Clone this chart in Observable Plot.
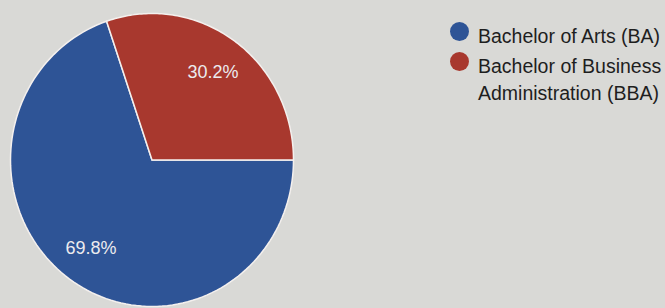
<!DOCTYPE html>
<html><head><meta charset="utf-8">
<script src="https://cdn.jsdelivr.net/npm/d3@7"></script>
<script src="https://cdn.jsdelivr.net/npm/@observablehq/plot@0.6"></script>
<style>
html,body{margin:0;padding:0;background:#d9d9d6;}
#wrap{position:relative;width:665px;height:308px;overflow:hidden;font-family:Arial,"Liberation Sans",sans-serif;}
#chart svg{display:block;background:transparent;}
#legend{position:absolute;left:450px;top:23px;color:#1e1e1e;font-size:19.5px;line-height:27px;}
.item{display:flex;align-items:flex-start;margin-bottom:3px;}
.mk{width:19px;height:19px;border-radius:50%;margin-top:-1px;margin-right:9px;flex:none;}
.tx{width:200px;}
</style>
</head><body>
<div id="wrap"><div id="chart"></div><div id="legend"></div></div>
<script>
const categories = ["Bachelor of Arts (BA)", "Bachelor of Business Administration (BBA)"];
const shares = [69.8, 30.2];
const colors = ["#2e5496", "#a8382e"];

const arcs = d3.pie().sort(null).startAngle(Math.PI / 2).endAngle(Math.PI / 2 + 2 * Math.PI)(shares);

// polygon points for each slice, derived from the pie angles
const slicePts = [];
arcs.forEach((a, i) => {
  const cat = categories[i];
  slicePts.push({cat, x: 0, y: 0});
  const n = 120;
  for (let k = 0; k <= n; k++) {
    const t = a.startAngle + (a.endAngle - a.startAngle) * k / n;
    slicePts.push({cat, x: Math.sin(t), y: Math.cos(t)});
  }
  slicePts.push({cat, x: 0, y: 0});
});

const labelPts = arcs.map((a, i) => {
  const m = (a.startAngle + a.endAngle) / 2;
  return {cat: categories[i], x: 0.74 * Math.sin(m), y: 0.74 * Math.cos(m), label: shares[i].toFixed(1) + "%"};
});

const chart = Plot.plot({
  width: 665, height: 308, margin: 0,
  x: {domain: [-1, 1], range: [10, 293], axis: null},
  y: {domain: [-1, 1], range: [306, 13], axis: null},
  color: {domain: categories, range: colors},
  style: {background: "transparent", fontFamily: "Arial, 'Liberation Sans', sans-serif"},
  marks: [
    Plot.line(slicePts, {x: "x", y: "y", z: "cat", fill: "cat", stroke: "#f4f0ee", strokeWidth: 1.5, strokeLinejoin: "round"}),
    Plot.text(labelPts, {x: "x", y: "y", text: "label", fill: "#ecebee", fontSize: 18})
  ]
});
document.getElementById("chart").appendChild(chart);

const legend = document.getElementById("legend");
categories.forEach((c, i) => {
  const item = document.createElement("div");
  item.className = "item";
  const mk = document.createElement("div");
  mk.className = "mk";
  mk.style.background = colors[i];
  const tx = document.createElement("div");
  tx.className = "tx";
  tx.textContent = c;
  item.appendChild(mk); item.appendChild(tx);
  legend.appendChild(item);
});
</script>
</body></html>
